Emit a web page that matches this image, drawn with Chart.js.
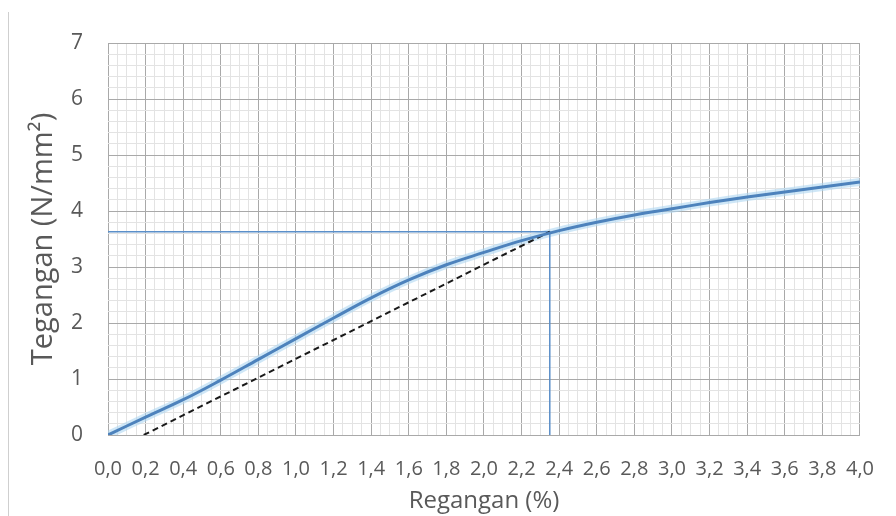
<!DOCTYPE html>
<html>
<head>
<meta charset="utf-8">
<script src="https://cdn.jsdelivr.net/npm/chart.js@4/dist/chart.umd.min.js"></script>
<style>
  html, body { margin: 0; padding: 0; background: #ffffff; }
  #wrap { position: relative; width: 896px; height: 516px; }
</style>
</head>
<body>
<div id="wrap"><canvas id="chart"></canvas></div>
<script>
// Stress–strain test curve
const strain = [0.0, 0.2, 0.4, 0.6, 0.8, 1.0, 1.2, 1.4, 1.6, 1.8, 2.0, 2.2, 2.4, 2.6, 2.8, 3.0, 3.2, 3.4, 3.6, 3.8, 4.0];
const stress = [0.00, 0.32, 0.63, 0.98, 1.35, 1.72, 2.09, 2.45, 2.77, 3.04, 3.26, 3.47, 3.65, 3.80, 3.93, 4.04, 4.15, 4.25, 4.34, 4.43, 4.52];

// Yield point read by the offset method
const yieldGuideX = [0.0, 2.35, 2.35];
const yieldGuideY = [3.63, 3.63, 0.0];
const offsetLineX = [0.19, 2.35];
const offsetLineY = [0.0, 3.63];

// Axis ranges and steps
const xMin = 0, xMax = 4.0, xMajor = 0.2, xMinor = 0.05;
const yMin = 0, yMax = 7, yMajor = 1, yMinor = 0.2;

const toPoints = (xs, ys) => xs.map((x, i) => ({ x: x, y: ys[i] }));

const textColor = '#595959';
const majorGrid = '#a9a9a9';
const minorGrid = '#e3e3e3';
const isMajor = (v, major, minor) => Math.round(v / minor) % Math.round(major / minor) === 0;

const frameLine = {
  id: 'frameLine',
  beforeDraw(chart) {
    const ctx = chart.ctx;
    ctx.save();
    ctx.strokeStyle = '#cfcfcf';
    ctx.lineWidth = 1;
    ctx.beginPath();
    ctx.moveTo(8.5, 12);
    ctx.lineTo(8.5, 516);
    ctx.stroke();
    ctx.restore();
  }
};

new Chart(document.getElementById('chart'), {
  type: 'line',
  data: {
    datasets: [
      {
        data: toPoints(strain, stress),
        borderColor: 'rgba(175, 215, 242, 0.6)',
        borderWidth: 8,
        pointRadius: 0,
        tension: 0.4,
        order: 4
      },
      {
        data: toPoints(strain, stress),
        borderColor: '#4d82bc',
        borderWidth: 3,
        pointRadius: 0,
        tension: 0.4,
        order: 1
      },
      {
        data: toPoints(yieldGuideX, yieldGuideY),
        borderColor: '#5b8fc9',
        borderWidth: 1.5,
        pointRadius: 0,
        tension: 0,
        order: 3
      },
      {
        data: toPoints(offsetLineX, offsetLineY),
        borderColor: '#1a1a1a',
        borderWidth: 2,
        borderDash: [6, 4],
        pointRadius: 0,
        tension: 0,
        order: 2
      }
    ]
  },
  options: {
    responsive: true,
    maintainAspectRatio: false,
    animation: false,
    devicePixelRatio: 1,
    layout: { padding: { left: 0, right: 34, top: 43, bottom: 0 } },
    plugins: {
      legend: { display: false },
      tooltip: { enabled: false }
    },
    scales: {
      x: {
        type: 'linear',
        min: xMin,
        max: xMax,
        afterFit(scale) { scale.height = 81; },
        border: { display: false },
        grid: {
          drawTicks: false,
          color: c => isMajor(c.tick.value, xMajor, xMinor) ? majorGrid : minorGrid,
          lineWidth: 1
        },
        ticks: {
          stepSize: xMinor,
          autoSkip: false,
          maxRotation: 0,
          minRotation: 0,
          padding: 22,
          color: textColor,
          font: { family: 'Open Sans', size: 20 },
          callback: v => isMajor(v, xMajor, xMinor) ? v.toFixed(1).replace('.', ',') : ''
        },
        title: {
          display: true,
          text: 'Regangan (%)',
          color: textColor,
          font: { family: 'Open Sans', size: 24 },
          padding: { top: 0, bottom: 0 }
        }
      },
      y: {
        type: 'linear',
        min: yMin,
        max: yMax,
        afterFit(scale) { scale.width = 108; },
        border: { display: false },
        grid: {
          drawTicks: false,
          color: c => isMajor(c.tick.value, yMajor, yMinor) ? majorGrid : minorGrid,
          lineWidth: 1
        },
        ticks: {
          stepSize: yMinor,
          autoSkip: false,
          padding: 25,
          color: textColor,
          font: { family: 'Open Sans', size: 21 },
          callback: v => isMajor(v, yMajor, yMinor) ? String(Math.round(v)) : ''
        },
        title: {
          display: true,
          text: 'Tegangan (N/mm²)',
          color: textColor,
          font: { family: 'Open Sans', size: 29 },
          padding: { top: 26, bottom: 0 }
        }
      }
    }
  },
  plugins: [frameLine]
});
</script>
</body>
</html>
